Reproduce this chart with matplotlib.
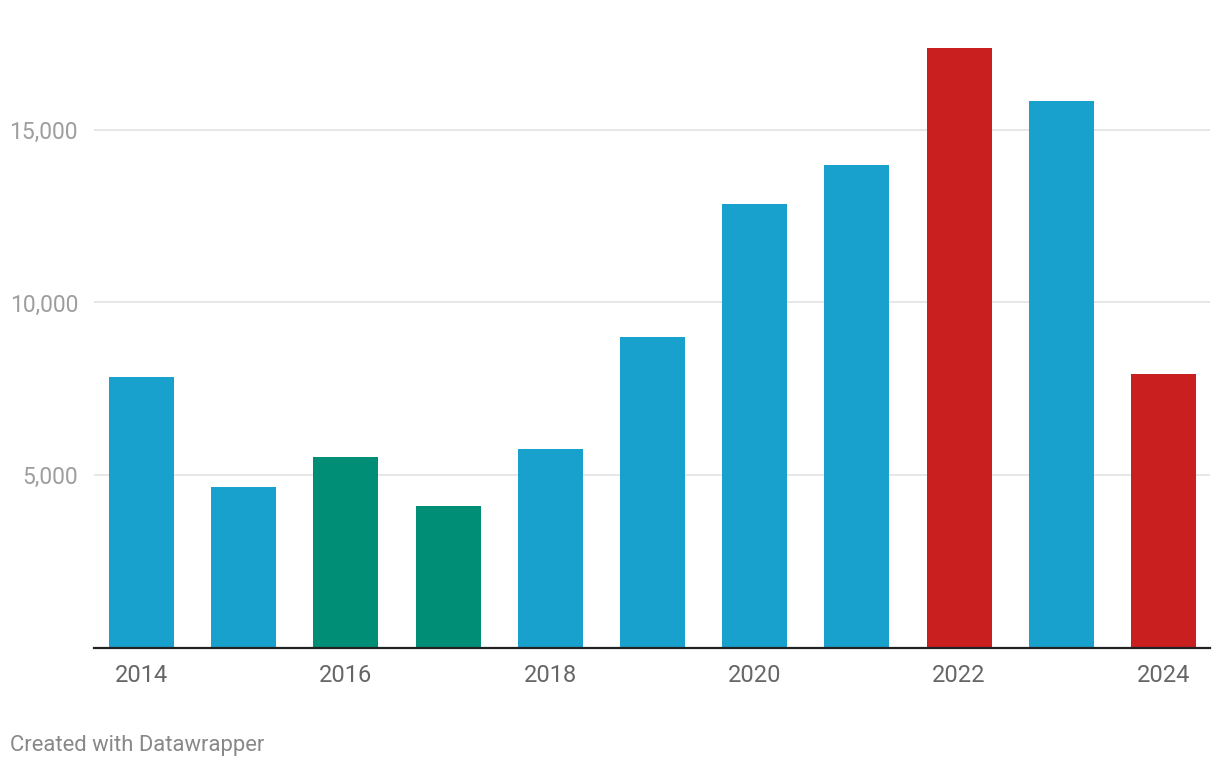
import matplotlib.pyplot as plt
from matplotlib.ticker import FuncFormatter

plt.rcParams['font.family'] = ['Roboto', 'DejaVu Sans']

years = [2014, 2015, 2016, 2017, 2018, 2019, 2020, 2021, 2022, 2023, 2024]
values = [7840, 4650, 5520, 4100, 5750, 9000, 12850, 13990, 17380, 15840, 7930]
groups = ['blue', 'blue', 'green', 'green', 'blue', 'blue', 'blue', 'blue', 'red', 'blue', 'red']
palette = {'blue': '#18a1cd', 'green': '#008f76', 'red': '#c91f1f'}

ytick_vals = [5000, 10000, 15000]
xtick_years = [2014, 2016, 2018, 2020, 2022, 2024]

fig = plt.figure(figsize=(12.2, 7.7), dpi=100)
ax = fig.add_axes([94 / 1220, 122.5 / 770, (1210 - 94) / 1220, (647.5 - 26.5) / 770])

pos = list(range(len(years)))
ax.bar(pos, values, width=0.636, color=[palette[g] for g in groups], zorder=2)

ax.set_xlim(-0.465, len(years) - 1 + 0.455)
ax.set_ylim(0, 18000)

ax.set_yticks(ytick_vals)
ax.yaxis.set_major_formatter(FuncFormatter(lambda v, _: f"{int(v):,}"))
ax.grid(axis='y', color='#e3e3e3', linewidth=1.2, zorder=0)
ax.tick_params(axis='y', length=0, pad=11.5, labelsize=16.5, labelcolor='#9e9e9e')

ax.set_xticks([years.index(y) for y in xtick_years])
ax.set_xticklabels([str(y) for y in xtick_years])
ax.tick_params(axis='x', length=0, pad=12, labelsize=17, labelcolor='#666666')

for side in ['top', 'right', 'left']:
    ax.spines[side].set_visible(False)
ax.spines['bottom'].set_color('#222222')
ax.spines['bottom'].set_linewidth(1.6)
ax.spines['bottom'].set_zorder(3)

fig.text(10 / 1220, 1 - 746 / 770, "Created with Datawrapper", fontsize=15.8,
         color='#888888', va='center', ha='left')

plt.savefig("out.png", dpi=100)
